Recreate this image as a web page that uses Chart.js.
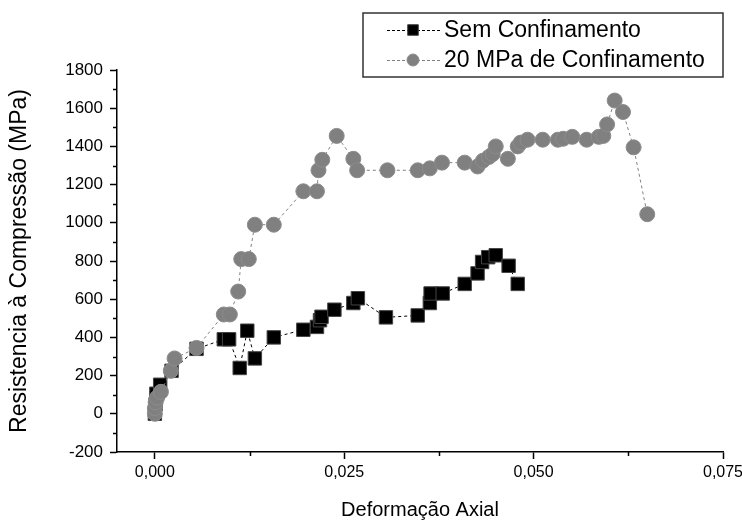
<!DOCTYPE html>
<html>
<head>
<meta charset="utf-8">
<script src="https://cdn.jsdelivr.net/npm/chart.js"></script>
<style>
  body { margin: 0; background: #fff; }
  #wrap { width: 742px; height: 522px; position: relative; }
</style>
</head>
<body>
<div id="wrap"><canvas id="chart"></canvas></div>
<script>
// Tick values
const xTicks = [0, 0.025, 0.05, 0.075];
const xMinorTicks = [0.0125, 0.0375, 0.0625];
const yTicks = [-200, 0, 200, 400, 600, 800, 1000, 1200, 1400, 1600, 1800];
const yMinorTicks = [-100, 100, 300, 500, 700, 900, 1100, 1300, 1500, 1700];

// Sem Confinamento
const semX = [0, 0.0001, 0.0002, 0.0007, 0.0022, 0.0055, 0.0091, 0.0098, 0.0112, 0.0122, 0.0132, 0.0157,
              0.0196, 0.0214, 0.0218, 0.022, 0.0237, 0.0262, 0.0268, 0.0305, 0.0347, 0.0363, 0.0364,
              0.038, 0.0409, 0.0426, 0.0432, 0.044, 0.045, 0.0467, 0.0479];
const semY = [0, 50, 105, 152, 225, 340, 390, 390, 240, 435, 290, 400,
              440, 455, 490, 508, 545, 580, 605, 505, 515, 580, 630,
              630, 680, 735, 795, 820, 830, 775, 680];

// 20 MPa de Confinamento
const confX = [0, 0.0000, 0.0001, 0.0003, 0.0008, 0.0021, 0.0026, 0.0055, 0.0091, 0.0099, 0.011, 0.0114,
               0.0124, 0.0132, 0.0157, 0.0196, 0.0214, 0.0216, 0.0221, 0.024, 0.0262, 0.0267, 0.0307,
               0.0347, 0.0363, 0.0379, 0.0409, 0.0426, 0.0433, 0.0441, 0.0446, 0.045, 0.0466, 0.0479,
               0.0483, 0.0492, 0.0512, 0.0532, 0.0539, 0.0551, 0.057, 0.0586, 0.0592, 0.0597, 0.0607,
               0.0618, 0.0632, 0.065];
const confY = [0, 30, 60, 85, 115, 225, 290, 345, 520, 520, 640, 810,
               810, 990, 990, 1165, 1165, 1275, 1330, 1455, 1335, 1275, 1275,
               1275, 1285, 1315, 1315, 1295, 1325, 1345, 1360, 1400, 1335, 1400,
               1420, 1435, 1435, 1435, 1440, 1450, 1435, 1450, 1455, 1515, 1640,
               1580, 1395, 1045];

const seriesNames = ['Sem Confinamento', '20 MPa de Confinamento'];

const FONT = '"Liberation Sans", Arial, sans-serif';
Chart.defaults.font.family = FONT;
Chart.defaults.color = '#000';

function toPoints(xs, ys) {
    return xs.map((x, i) => ({ x: x, y: ys[i] }));
}

// Minor ticks drawn from the scales
const minorTicks = {
    id: 'minorTicks',
    afterDraw(chart) {
        const ctx = chart.ctx;
        const xs = chart.scales.x, ys = chart.scales.y;
        const area = chart.chartArea;
        ctx.save();
        ctx.strokeStyle = '#000';
        ctx.lineWidth = 1.5;
        ctx.beginPath();
        yMinorTicks.forEach(v => {
            const py = Math.round(ys.getPixelForValue(v)) + 0.5;
            ctx.moveTo(area.left - 4, py);
            ctx.lineTo(area.left, py);
        });
        xMinorTicks.forEach(v => {
            const px = Math.round(xs.getPixelForValue(v)) + 0.5;
            ctx.moveTo(px, area.bottom);
            ctx.lineTo(px, area.bottom + 4);
        });
        ctx.stroke();
        ctx.restore();
    }
};

// Boxed legend, top right
const boxLegend = {
    id: 'boxLegend',
    afterDraw(chart) {
        const ctx = chart.ctx;
        const left = 363, top = 13, right = 723, bottom = 77;
        ctx.save();
        ctx.strokeStyle = '#333';
        ctx.lineWidth = 1.5;
        ctx.strokeRect(left, top, right - left, bottom - top);
        ctx.font = '23px ' + FONT;
        ctx.textBaseline = 'middle';
        ctx.textAlign = 'left';
        const rows = [30, 60];
        chart.data.datasets.forEach((ds, i) => {
            const y = rows[i];
            ctx.strokeStyle = ds.borderColor;
            ctx.lineWidth = 1;
            ctx.setLineDash([3, 2]);
            ctx.beginPath();
            ctx.moveTo(387, y + 0.5);
            ctx.lineTo(441, y + 0.5);
            ctx.stroke();
            ctx.setLineDash([]);
            ctx.fillStyle = ds.pointBackgroundColor;
            ctx.strokeStyle = ds.pointBorderColor;
            Chart.helpers.drawPoint(ctx, {
                pointStyle: ds.pointStyle,
                radius: ds.pointStyle === 'rect' ? 7.5 : 6,
                rotation: 0,
                borderWidth: 1
            }, 413, y);
            ctx.fillStyle = '#000';
            ctx.fillText(seriesNames[i], 444, y + 1);
        });
        ctx.restore();
    }
};

new Chart(document.getElementById('chart'), {
    type: 'scatter',
    data: {
        datasets: [{
            label: seriesNames[0],
            data: toPoints(semX, semY),
            showLine: true,
            borderColor: '#000',
            borderWidth: 1,
            borderDash: [3, 3],
            pointStyle: 'rect',
            pointRadius: 9.5,
            pointBackgroundColor: '#000',
            pointBorderColor: '#444',
            pointBorderWidth: 1,
            order: 2
        }, {
            label: seriesNames[1],
            data: toPoints(confX, confY),
            showLine: true,
            borderColor: '#808080',
            borderWidth: 1,
            borderDash: [3, 3],
            pointStyle: 'circle',
            pointRadius: 7.5,
            pointBackgroundColor: '#808080',
            pointBorderColor: '#8c8c8c',
            pointBorderWidth: 1,
            order: 1
        }]
    },
    options: {
        responsive: true,
        maintainAspectRatio: false,
        animation: false,
        layout: { padding: { top: 70, right: 19, left: 0, bottom: 0 } },
        plugins: {
            legend: { display: false },
            tooltip: { enabled: false }
        },
        scales: {
            x: {
                type: 'linear',
                min: -0.005,
                max: 0.075,
                afterBuildTicks: s => { s.ticks = xTicks.map(v => ({ value: v })); },
                afterFit: s => { s.height = 70; s.paddingLeft = 0; s.paddingRight = 0; },
                ticks: {
                    font: { size: 16 },
                    padding: 4,
                    maxRotation: 0,
                    callback: v => v.toFixed(3).replace('.', ',')
                },
                grid: {
                    drawOnChartArea: false,
                    tickLength: 7,
                    tickColor: '#000',
                    tickWidth: 1.5
                },
                border: { color: '#000', width: 1.5 },
                title: {
                    display: true,
                    text: 'Deformação Axial',
                    font: { size: 20 },
                    padding: { top: 0, bottom: 0 }
                }
            },
            y: {
                type: 'linear',
                min: -200,
                max: 1800,
                afterBuildTicks: s => { s.ticks = yTicks.map(v => ({ value: v })); },
                afterFit: s => { s.width = 117; s.paddingTop = 0; s.paddingBottom = 0; },
                ticks: {
                    font: { size: 17 },
                    padding: 7,
                    callback: v => String(v)
                },
                grid: {
                    drawOnChartArea: false,
                    tickLength: 7,
                    tickColor: '#000',
                    tickWidth: 1.5
                },
                border: { color: '#000', width: 1.5 },
                title: {
                    display: true,
                    text: 'Resistencia à Compressão (MPa)',
                    font: { size: 23 },
                    padding: { top: 6, bottom: 0 }
                }
            }
        }
    },
    plugins: [minorTicks, boxLegend]
});
</script>
</body>
</html>
